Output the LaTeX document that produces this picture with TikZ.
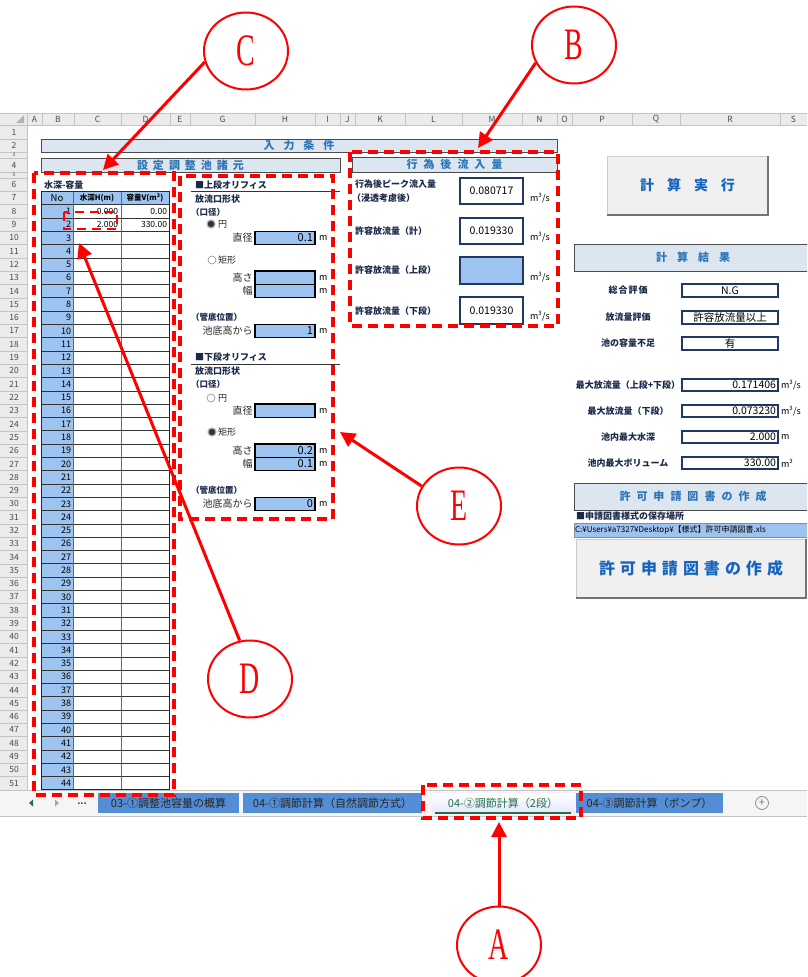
\documentclass[tikz,border=0pt]{standalone}
\usepackage{graphicx}
\usepackage{fontspec}
\setmainfont{Noto Sans CJK JP}
\newfontfamily\letterfont{Liberation Serif}
\usetikzlibrary{arrows.meta,shapes.geometric,positioning}

\definecolor{bannerfill}{HTML}{DCE6F1}
\definecolor{bannerblue}{HTML}{2E75B6}
\definecolor{buttonblue}{HTML}{1565C0}
\definecolor{navy}{HTML}{1F3864}
\definecolor{labelink}{HTML}{1B2A4A}
\definecolor{inputblue}{HTML}{9DC3F0}
\definecolor{sheetgray}{HTML}{EBEBEB}
\definecolor{sheetline}{HTML}{C4C4C4}
\definecolor{tabblue}{HTML}{538DD5}
\definecolor{excelgreen}{HTML}{217346}
\definecolor{buttongray}{HTML}{F0F0F0}

\newcommand{\tgap}[1]{\hspace{#1pt}}

\tikzset{
        txt/.style={inner sep=0pt, outer sep=0pt},
        % row and column headers of the sheet
        sheethead/.style={txt, text=black!70, font=\fontsize{8.5}{9}\selectfont},
        % blue title bars
        banner/.style={txt, anchor=north west, draw=black!70, line width=0.8pt, fill=bannerfill, text=bannerblue, font=\fontsize{11}{12}\selectfont\bfseries},
        % bold field names
        fieldname/.style={txt, anchor=west, text=labelink, font=\fontsize{9}{10}\selectfont\bfseries},
        % plain names in front of input cells
        plainname/.style={txt, anchor=east, text=black!85, font=\fontsize{10}{11}\selectfont},
        % light blue input cells
        inputcell/.style={txt, anchor=north west, draw=black, line width=1.3pt, fill=inputblue, inner xsep=2pt, text width=56pt, align=right, minimum height=13.3pt, font=\fontsize{11}{12}\selectfont},
        % white result cells
        outcell/.style={txt, anchor=north west, draw=navy, line width=1.6pt, fill=white, font=\fontsize{10.5}{12}\selectfont},
        unit/.style={txt, anchor=west, font=\fontsize{9}{10}\selectfont},
        % radio buttons
        radiooff/.style={circle, draw=black!45, fill=white, line width=0.6pt, minimum size=8pt, inner sep=0pt},
        radioon/.style={radiooff, fill=black!80, draw=black!30, line width=1.2pt},
        % macro buttons
        button/.style={txt, anchor=north west, draw=black!20, fill=buttongray, text=buttonblue, font=\fontsize{14}{16}\selectfont\bfseries},
        % sheet tabs
        sheettab/.style={txt, fill=tabblue, minimum height=20pt, text=black!85, font=\fontsize{11}{12}\selectfont},
        % red marks
        redframe/.style={draw=red, line width=3.2pt, dash pattern=on 10pt off 6pt},
        pointer/.style={draw=red, line width=3pt, -{Triangle[length=15pt,width=15pt]}},
        callout/.style={ellipse, draw=red, line width=2pt, fill=white, minimum width=84pt, minimum height=77pt, inner sep=0pt, text=red, font=\letterfont\fontsize{45}{45}\selectfont}
}

\begin{document}
\begin{tikzpicture}[x=1pt, y=-1pt]
\useasboundingbox (0,0) rectangle (807,977);
\clip (0,0) rectangle (807,977);
\fill[white] (0,0) rectangle (807,977);

% sheet headers
\fill[sheetgray] (0,113) rectangle (807,125);
\fill[sheetgray] (0,113) rectangle (27,790);
\draw[sheetline] (0,113) -- (807,113) (0,125) -- (807,125) (27,113) -- (27,790);
\fill[black!30] (16,123) -- (24,123) -- (24,115) -- cycle;
\foreach \cname/\xa/\xb in {A/27/42,B/42/74,C/74/121,D/121/170,E/170/190,G/190/255,H/255/315,I/315/340,J/340/355,K/355/405,L/405/462,M/462/522,N/522/557,O/557/572,P/572/632,Q/632/680,R/680/780,S/780/807}
{
    \draw[sheetline] (\xb,113) -- (\xb,125);
    \node[sheethead] (col\cname) at ({(\xa+\xb)/2},119) {\cname};
}
\foreach \r/\ya/\yb in {1/125/139,2/139/152,4/158/172}
{
    \draw[sheetline] (0,\yb) -- (27,\yb);
    \node[sheethead] (row\r) at (14,{(\ya+\yb)/2}) {\r};
}
\foreach \r/\ya/\yb in {3/152/158,5/172/178}
{
    \draw[sheetline] (0,\yb) -- (27,\yb);
    \node[sheethead, font=\fontsize{5}{5}\selectfont] (row\r) at (14,{(\ya+\yb)/2}) {\r};
}
\foreach \r in {6,...,51}
{
    \draw[sheetline] (0,{178+(\r-5)*13.3}) -- (27,{178+(\r-5)*13.3});
    \node[sheethead] (row\r) at (14,{178+(\r-6)*13.3+6.65}) {\r};
}

% title bars
\node[banner, minimum width=516pt, minimum height=13pt] (nyuryoku) at (41,139) {入\tgap{9}力\tgap{9}条\tgap{9}件};
\node[banner, minimum width=299pt, minimum height=14pt] (shogen) at (41,158) {設\tgap{5}定\tgap{5}調\tgap{5}整\tgap{5}池\tgap{5}諸\tgap{5}元};
\node[banner, minimum width=205pt, minimum height=15pt] (ryunyu) at (352,157) {行\tgap{6}為\tgap{6}後\tgap{6}流\tgap{6}入\tgap{6}量};

% depth - volume table
\node[fieldname] (hvtitle) at (44,184.6) {水深-容量};
\fill[inputblue] (41,191.3) rectangle (73,789.8);
\fill[inputblue] (73,191.3) rectangle (169,204.6);
\foreach \r in {8,...,51}
    \draw[black!80, line width=0.6pt] (41,{178+(\r-6)*13.3}) -- (169,{178+(\r-6)*13.3});
\draw[black!60, line width=0.6pt] (73,191.3) -- (73,789.8) (121,191.3) -- (121,789.8);
\draw[black!85, line width=1pt] (41,191.3) rectangle (169,789.8);
\node[txt, font=\fontsize{9.5}{10}\selectfont] (headno) at (57,198) {No};
\node[txt, font=\fontsize{7.5}{8}\selectfont\bfseries] (headh) at (97,198) {水深H(m)};
\node[txt, font=\fontsize{7.5}{8}\selectfont\bfseries] (headv) at (145,198) {容量V(m\textsuperscript{3})};
\foreach \n in {1,...,44}
    \node[txt, anchor=east, font=\fontsize{9}{10}\selectfont] (no\n) at (71,{178+(\n+1)*13.3+6.65}) {\n};
\node[txt, anchor=east, font=\fontsize{8.5}{9}\selectfont] (depth1) at (118,211.3) {0.000};
\node[txt, anchor=east, font=\fontsize{8.5}{9}\selectfont] (depth2) at (118,224.6) {2.000};
\node[txt, anchor=east, font=\fontsize{8.5}{9}\selectfont] (vol1) at (167,211.3) {0.00};
\node[txt, anchor=east, font=\fontsize{8.5}{9}\selectfont] (vol2) at (167,224.6) {330.00};

% upper orifice
\node[fieldname] (uptitle) at (195,185) {■上段オリフィス};
\draw[black!80, line width=0.8pt] (191,191.5) -- (340,191.5);
\node[fieldname] (upshape) at (195,199) {放流口形状};
\node[fieldname, font=\fontsize{8.5}{10}\selectfont\bfseries] (upkei) at (191,212) {（口径）};
\node[radioon] (upround) at (211,224) {};
\node[unit, text=black!85] (uproundtxt) at (218,224) {円};
\node[plainname] (updiatxt) at (252.5,237.9) {直径};
\node[inputcell] (updia) at (255,231.2) {0.1};
\node[unit] (updiaunit) at (319,237.9) {m};
\node[radiooff] (uprect) at (212,260) {};
\node[unit, text=black!85] (uprecttxt) at (218,260) {矩形};
\node[plainname] (uphtxt) at (252.5,277.8) {高さ};
\node[inputcell] (uph) at (255,271.1) {};
\node[unit] (uphunit) at (319,277.8) {m};
\node[plainname] (upwtxt) at (252.5,291.1) {幅};
\node[inputcell] (upw) at (255,284.4) {};
\node[unit] (upwunit) at (319,291.1) {m};
\node[fieldname, font=\fontsize{8.5}{10}\selectfont\bfseries] (uppos) at (191,317.6) {（管底位置）};
\node[plainname] (upbottxt) at (252.5,331) {池底高から};
\node[inputcell] (upbot) at (255,324.3) {1};
\node[unit] (upbotunit) at (319,331) {m};

% lower orifice
\node[fieldname] (lotitle) at (195,357.5) {■下段オリフィス};
\draw[black!80, line width=0.8pt] (191,364.2) -- (340,364.2);
\node[fieldname] (loshape) at (195,371) {放流口形状};
\node[fieldname, font=\fontsize{8.5}{10}\selectfont\bfseries] (lokei) at (191,384) {（口径）};
\node[radiooff] (loround) at (211,398) {};
\node[unit, text=black!85] (loroundtxt) at (218,398) {円};
\node[plainname] (lodiatxt) at (252.5,410.8) {直径};
\node[inputcell] (lodia) at (255,404.1) {};
\node[unit] (lodiaunit) at (319,410.8) {m};
\node[radioon] (lorect) at (212,432) {};
\node[unit, text=black!85] (lorecttxt) at (218,432) {矩形};
\node[plainname] (lohtxt) at (252.5,450.7) {高さ};
\node[inputcell] (loh) at (255,444) {0.2};
\node[unit] (lohunit) at (319,450.7) {m};
\node[plainname] (lowtxt) at (252.5,464) {幅};
\node[inputcell] (low) at (255,457.3) {0.1};
\node[unit] (lowunit) at (319,464) {m};
\node[fieldname, font=\fontsize{8.5}{10}\selectfont\bfseries] (lopos) at (191,490.5) {（管底位置）};
\node[plainname] (lobottxt) at (252.5,503.9) {池底高から};
\node[inputcell] (lobot) at (255,497.2) {0};
\node[unit] (lobotunit) at (319,503.9) {m};

% inflow after development
\node[fieldname] (peaktxt) at (355,184.5) {行為後ピーク流入量};
\node[fieldname] (peaktxt2) at (352,198) {（浸透考慮後）};
\node[outcell, minimum width=63pt, minimum height=26pt] (peak) at (460,178) {0.080717};
\node[unit] (peakunit) at (530,198) {m\textsuperscript{3}/s};
\node[fieldname] (allowtxt) at (355,231) {許容放流量（計）};
\node[outcell, minimum width=63pt, minimum height=26pt] (allow) at (460,218) {0.019330};
\node[unit] (allowunit) at (530,237) {m\textsuperscript{3}/s};
\node[fieldname] (allowuptxt) at (355,270) {許容放流量（上段）};
\node[outcell, fill=inputblue, minimum width=63pt, minimum height=27pt] (allowup) at (460,257) {};
\node[unit] (allowupunit) at (530,277) {m\textsuperscript{3}/s};
\node[fieldname] (allowlotxt) at (355,311) {許容放流量（下段）};
\node[outcell, minimum width=63pt, minimum height=27pt] (allowlo) at (460,297) {0.019330};
\node[unit] (allowlounit) at (530,316) {m\textsuperscript{3}/s};

% run button and results
\node[button, minimum width=161pt, minimum height=59pt] (runbtn) at (607,156) {計\tgap{13}算\tgap{13}実\tgap{13}行};
\draw[black!55, line width=1.2pt] (runbtn.north east) -- (runbtn.south east) -- (runbtn.south west);
\node[banner, minimum width=238pt, minimum height=27pt] (kekka) at (574,244) {計\tgap{10}算\tgap{10}結\tgap{10}果};
\node[fieldname, anchor=center] (sogotxt) at (628,290.5) {総\tgap{1}合\tgap{1}評\tgap{1}価};
\node[outcell, minimum width=96pt, minimum height=13pt] (sogo) at (682,284) {N.G};
\node[fieldname, anchor=center] (evaltxt) at (628,317) {放流量評価};
\node[outcell, minimum width=96pt, minimum height=13pt] (evalq) at (682,311) {許容放流量以上};
\node[fieldname, anchor=center] (shorttxt) at (628,343) {池の容量不足};
\node[outcell, minimum width=96pt, minimum height=13pt] (short) at (682,337) {有};
\node[fieldname, anchor=center] (qmaxtxt) at (628,385) {最大放流量（上段+下段）};
\node[outcell, text width=92pt, inner xsep=2pt, align=right, minimum height=12pt] (qmax) at (682,379) {0.171406};
\node[unit] (qmaxunit) at (781,385) {m\textsuperscript{3}/s};
\node[fieldname, anchor=center] (qlotxt) at (628,411) {最大放流量（下段）};
\node[outcell, text width=92pt, inner xsep=2pt, align=right, minimum height=12pt] (qlo) at (682,405) {0.073230};
\node[unit] (qlounit) at (781,411) {m\textsuperscript{3}/s};
\node[fieldname, anchor=center] (hmaxtxt) at (628,437) {池内最大水深};
\node[outcell, text width=92pt, inner xsep=2pt, align=right, minimum height=12pt] (hmax) at (682,431) {2.000};
\node[unit] (hmaxunit) at (781,437) {m};
\node[fieldname, anchor=center] (vmaxtxt) at (628,463.5) {池内最大ボリューム};
\node[outcell, text width=92pt, inner xsep=2pt, align=right, minimum height=12pt] (vmax) at (682,457) {330.00};
\node[unit] (vmaxunit) at (781,463) {m\textsuperscript{3}};

% application documents
\node[banner, minimum width=238pt, minimum height=27pt] (shinsei) at (574,483) {許\tgap{6}可\tgap{6}申\tgap{6}請\tgap{6}図\tgap{6}書\tgap{6}の\tgap{6}作\tgap{6}成};
\node[fieldname] (savetxt) at (576,516.5) {■申請図書様式の保存場所};
\node[txt, anchor=north west, fill=inputblue, draw=black!45, minimum height=14pt, text width=236pt, inner xsep=1pt, align=left, font=\fontsize{8}{9}\selectfont] (savepath) at (574,523) {C:¥Users¥a7327¥Desktop¥【様式】許可申請図書.xls};
\node[button, minimum width=230pt, minimum height=59pt, font=\fontsize{16}{18}\selectfont\bfseries] (makebtn) at (576,539) {許\tgap{5}可\tgap{5}申\tgap{5}請\tgap{5}図\tgap{5}書\tgap{5}の\tgap{5}作\tgap{5}成};
\draw[black!55, line width=1.2pt] (makebtn.north east) -- (makebtn.south east) -- (makebtn.south west);

% sheet tabs
\fill[black!4] (0,790) rectangle (807,816);
\draw[sheetline] (0,790) -- (807,790) (0,816.5) -- (807,816.5);
\fill[excelgreen] (29,803) -- (33,799.5) -- (33,806.5) -- cycle;
\fill[black!35] (59,803) -- (55,799.5) -- (55,806.5) -- cycle;
\node[txt, text=black!70, font=\fontsize{9}{10}\selectfont\bfseries] (tabmore) at (82,804) {...};
\node[sheettab, minimum width=141pt] (tab1) at (168.5,803) {03-①調整池容量の概算};
\node[sheettab, minimum width=179pt] (tab2) at (332.5,803) {04-①調節計算（自然調節方式）};
\node[sheettab, fill=none, top color=white, bottom color=blue!10, text=excelgreen, minimum width=142pt] (tab3) at (503,803) {04-②調節計算（2段）};
\draw[excelgreen, line width=1.5pt] ([xshift=3pt]tab3.south west) -- ([xshift=-3pt]tab3.south east);
\node[sheettab, minimum width=147pt] (tab4) at (649.5,803) {04-③調節計算（ポンプ）};
\node[circle, draw=black!45, line width=0.8pt, minimum size=13pt, inner sep=0pt, text=black!55, font=\fontsize{11}{11}\selectfont] (addtab) at (762,803) {+};

% red marks
\draw[redframe] (34,173) rectangle (174,795);
\draw[redframe] (350,152) rectangle (558,326);
\draw[redframe] (180,176) rectangle (333,519);
\draw[redframe, line width=2.6pt, dash pattern=on 9pt off 6pt] (64,212) rectangle (117,229);
\draw[redframe] (423,785) rectangle (581,818);

\node[callout] (callC) at (246,51) {\scalebox{0.62}[1]{C}};
\node[callout] (callB) at (574,45) {\scalebox{0.62}[1]{B}};
\node[callout] (callD) at (250,679) {\scalebox{0.62}[1]{D}};
\node[callout] (callE) at (459,506) {\scalebox{0.62}[1]{E}};
\node[callout] (callA) at (499,945) {\scalebox{0.62}[1]{A}};
\coordinate (tipC) at (103,170);
\coordinate (tipB) at (478,148);
\coordinate (tipD) at (79,243);
\coordinate (tipE) at (340,432);
\coordinate (tipA) at (499,822);
\draw[pointer] (callC.195) -- (tipC);
\draw[pointer] (callB.205) -- (tipB);
\draw[pointer] (callD.105) -- (tipD);
\draw[pointer] (callE.152) -- (tipE);
\draw[pointer] (callA.north) -- (tipA);
\end{tikzpicture}
\end{document}
